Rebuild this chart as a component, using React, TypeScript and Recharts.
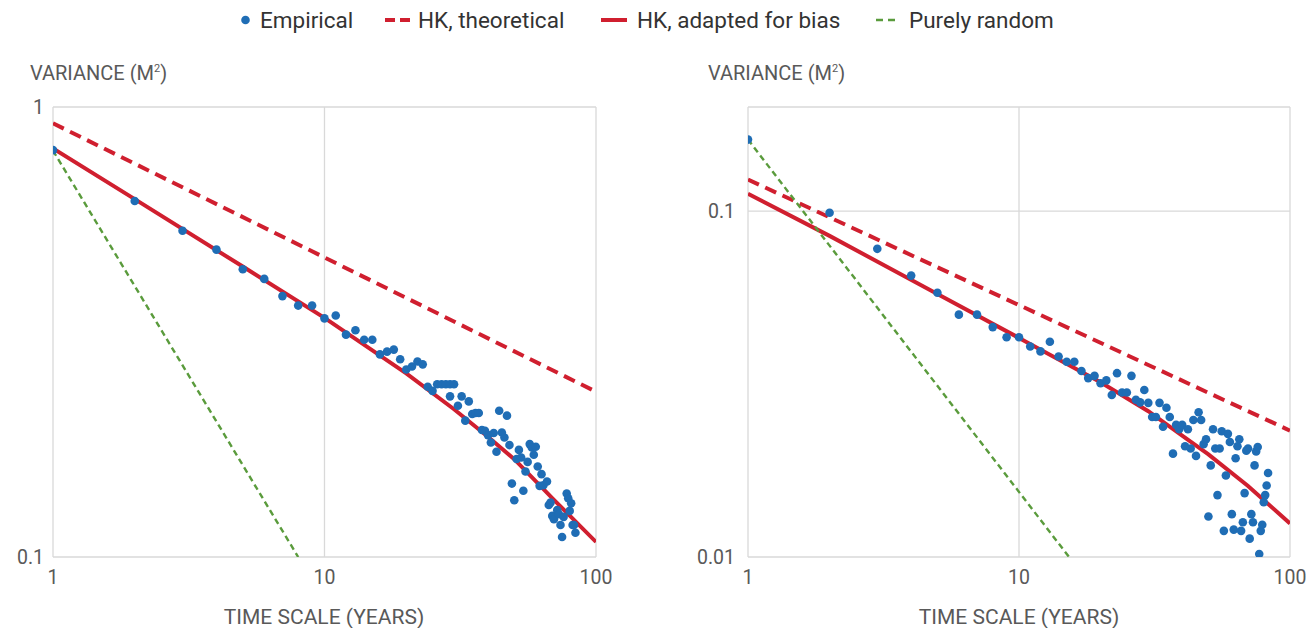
import React from 'react';
import { ComposedChart, Scatter, Line, XAxis, YAxis, CartesianGrid } from 'recharts';

const BLUE = '#1f6db5';
const RED = '#d01f2f';
const GREEN = '#5a9b3c';
const GRID = '#d9d9d9';
const TICK = '#595959';
const FONT = 'Roboto, "Noto Sans", sans-serif';

// Left panel: empirical variance per time scale (years)
const leftK = [
  1, 2, 3, 4, 5, 6, 7, 8, 9, 10, 11, 12, 13, 14, 15, 16, 17, 18, 19, 20, 21, 22, 23, 24, 25, 26, 27, 28, 29, 30,
  29, 31, 32, 33, 34, 35, 36, 37, 38, 39, 40, 41, 42, 43, 44, 45, 46, 47, 48, 49, 50, 51, 52, 53, 54, 55, 56, 57,
  58, 59, 60, 61, 62, 63, 64, 66, 67, 68, 69, 70, 72, 73, 74, 75, 76, 78, 79, 80, 81, 82, 83, 84,
];
const leftVar = [
  0.802, 0.618, 0.531, 0.482, 0.436, 0.415, 0.38, 0.362, 0.362, 0.339, 0.344, 0.312, 0.319, 0.304, 0.304, 0.282,
  0.286, 0.289, 0.275, 0.261, 0.265, 0.272, 0.268, 0.239, 0.234, 0.242, 0.242, 0.242, 0.242, 0.242,
  0.2275, 0.2169, 0.2275, 0.2009, 0.2217, 0.2078, 0.2089, 0.2089, 0.1915, 0.1908, 0.1866, 0.1797, 0.1886, 0.1713,
  0.2114, 0.1891, 0.1843, 0.2061, 0.1773, 0.1456, 0.1337, 0.1651, 0.173, 0.1664, 0.1403, 0.1549, 0.1627, 0.1782,
  0.1751, 0.1687, 0.1758, 0.1589, 0.1439, 0.1528, 0.1444, 0.1471, 0.1305, 0.1321, 0.1234, 0.1213, 0.1271, 0.1245,
  0.1178, 0.1108, 0.1228, 0.1384, 0.1351, 0.1266, 0.1317, 0.1178, 0.1178, 0.1132,
];
const leftTheoryK = [1, 100];
const leftTheoryVar = [0.92, 0.233];
const leftAdaptK = [1, 2, 5, 10, 20, 30, 40, 50, 70, 100];
const leftAdaptVar = [0.809, 0.624, 0.442, 0.34, 0.256, 0.213, 0.185, 0.165, 0.134, 0.108];
const leftRandomK = [1, 8];
const leftRandomVar = [0.8, 0.1];

// Right panel
const rightK = Array.from({ length: 83 }, (_, i) => i + 1);
const rightVar = [
  0.161, 0.0989, 0.0778, 0.0651, 0.0581, 0.0502, 0.0502, 0.0462, 0.0432, 0.0432, 0.0406, 0.0393, 0.0419, 0.038,
  0.0367, 0.0367, 0.0345, 0.0329, 0.0334, 0.0318, 0.0324, 0.0294, 0.034, 0.0299, 0.0299, 0.0334, 0.0285, 0.028,
  0.0304, 0.0279, 0.0254, 0.0254, 0.0279, 0.0238, 0.027, 0.0254, 0.0199, 0.0241, 0.0234, 0.0241, 0.0209, 0.0234,
  0.0206, 0.0249, 0.0196, 0.0262, 0.0249, 0.0212, 0.0219, 0.0131, 0.0184, 0.0234, 0.0206, 0.0151, 0.0206, 0.0231,
  0.0119, 0.0172, 0.0227, 0.0215, 0.0133, 0.012, 0.0193, 0.0209, 0.0219, 0.0119, 0.0126, 0.0153, 0.0203, 0.0206,
  0.0113, 0.0133, 0.0126, 0.0184, 0.0202, 0.0208, 0.0102, 0.0119, 0.0124, 0.0144, 0.0151, 0.0161, 0.0175,
];
const rightTheoryK = [1, 100];
const rightTheoryVar = [0.1234, 0.0232];
const rightAdaptK = [1, 2, 5, 10, 20, 30, 40, 50, 70, 100];
const rightAdaptVar = [0.1122, 0.0848, 0.0576, 0.043, 0.032, 0.0264, 0.02245, 0.0198, 0.01605, 0.0125];
const rightRandomK = [1, 15.3];
const rightRandomVar = [0.161, 0.01];

const xTicks = [1, 10, 100];

const pts = (xs: number[], ys: number[]) => xs.map((x, i) => ({ x, y: ys[i] }));

const Dot = (props: any) => <circle cx={props.cx} cy={props.cy} r={4.3} fill={BLUE} />;

type PanelProps = {
  left: number;
  width: number;
  yAxisWidth: number;
  yDomain: [number, number];
  yTicks: number[];
  yTickMargin: number;
  empirical: { x: number; y: number }[];
  theory: { x: number; y: number }[];
  adapt: { x: number; y: number }[];
  random: { x: number; y: number }[];
};

const Panel = (p: PanelProps) => {
  const tick = { fill: TICK, fontSize: 19.5, fontFamily: FONT };
  return (
    <div style={{ position: 'absolute', left: p.left, top: 0 }}>
      <ComposedChart width={p.width} height={628} margin={{ top: 107, right: 24, bottom: 41, left: 0 }}>
        <CartesianGrid stroke={GRID} strokeWidth={1.3} />
        <XAxis
          dataKey="x"
          type="number"
          scale="log"
          domain={[1, 100]}
          ticks={xTicks}
          allowDataOverflow
          axisLine={false}
          tickLine={false}
          tickSize={0}
          tickMargin={13}
          height={30}
          tick={tick}
        />
        <YAxis
          dataKey="y"
          type="number"
          scale="log"
          domain={p.yDomain}
          ticks={p.yTicks}
          allowDataOverflow
          axisLine={false}
          tickLine={false}
          tickSize={0}
          tickMargin={p.yTickMargin}
          width={p.yAxisWidth}
          tick={tick}
          tickFormatter={(v: number) => (v === 0.2 ? '' : String(v))}
        />
        <Scatter data={p.empirical} fill={BLUE} shape={Dot} isAnimationActive={false} />
        <Line data={p.theory} dataKey="y" stroke={RED} strokeWidth={4} strokeDasharray="12 7" dot={false} isAnimationActive={false} />
        <Line data={p.adapt} dataKey="y" stroke={RED} strokeWidth={4} dot={false} isAnimationActive={false} />
        <Line data={p.random} dataKey="y" stroke={GREEN} strokeWidth={2.4} strokeDasharray="6 4" dot={false} isAnimationActive={false} />
      </ComposedChart>
    </div>
  );
};

const legendText: React.CSSProperties = { fontFamily: FONT, fontSize: 22.5, color: '#333', whiteSpace: 'nowrap' };
const titleText: React.CSSProperties = { position: 'absolute', fontFamily: FONT, color: TICK, whiteSpace: 'nowrap' };

const LegendItem = ({ left, gap, swatch, label }: { left: number; gap: number; swatch: React.ReactNode; label: string }) => (
  <div style={{ position: 'absolute', left, top: 6, height: 28, display: 'flex', alignItems: 'center', gap }}>
    {swatch}
    <span style={legendText}>{label}</span>
  </div>
);

export default function App() {
  return (
    <div style={{ position: 'absolute', left: 0, top: 0, width: 1314, height: 628, background: '#fff', overflow: 'hidden' }}>
      <LegendItem
        left={241}
        gap={10}
        label="Empirical"
        swatch={<svg width={9} height={10}><circle cx={4.5} cy={5} r={4.3} fill={BLUE} /></svg>}
      />
      <LegendItem
        left={385}
        gap={8}
        label="HK, theoretical"
        swatch={<svg width={25} height={6}><line x1={0} y1={3} x2={25} y2={3} stroke={RED} strokeWidth={4} strokeDasharray="10 5" /></svg>}
      />
      <LegendItem
        left={601}
        gap={10}
        label="HK, adapted for bias"
        swatch={<svg width={26} height={6}><line x1={0} y1={3} x2={26} y2={3} stroke={RED} strokeWidth={4} /></svg>}
      />
      <LegendItem
        left={876}
        gap={14}
        label="Purely random"
        swatch={<svg width={19} height={6}><line x1={0} y1={3} x2={19} y2={3} stroke={GREEN} strokeWidth={2.4} strokeDasharray="7 5" /></svg>}
      />

      <Panel
        left={0}
        width={620}
        yAxisWidth={53}
        yDomain={[0.1, 1]}
        yTicks={[0.1, 1]}
        yTickMargin={9}
        empirical={pts(leftK, leftVar)}
        theory={pts(leftTheoryK, leftTheoryVar)}
        adapt={pts(leftAdaptK, leftAdaptVar)}
        random={pts(leftRandomK, leftRandomVar)}
      />
      <Panel
        left={660}
        width={654}
        yAxisWidth={88}
        yDomain={[0.01, 0.2]}
        yTicks={[0.01, 0.1, 0.2]}
        yTickMargin={13}
        empirical={pts(rightK, rightVar)}
        theory={pts(rightTheoryK, rightTheoryVar)}
        adapt={pts(rightAdaptK, rightAdaptVar)}
        random={pts(rightRandomK, rightRandomVar)}
      />

      <div style={{ ...titleText, fontSize: 20, left: 30, top: 61 }}>
        VARIANCE (M<sup style={{ fontSize: 11 }}>2</sup>)
      </div>
      <div style={{ ...titleText, fontSize: 20, left: 708, top: 61 }}>
        VARIANCE (M<sup style={{ fontSize: 11 }}>2</sup>)
      </div>
      <div style={{ ...titleText, fontSize: 21, left: 324, top: 605, transform: 'translateX(-50%)' }}>TIME SCALE (YEARS)</div>
      <div style={{ ...titleText, fontSize: 21, left: 1019, top: 605, transform: 'translateX(-50%)' }}>TIME SCALE (YEARS)</div>
    </div>
  );
}
